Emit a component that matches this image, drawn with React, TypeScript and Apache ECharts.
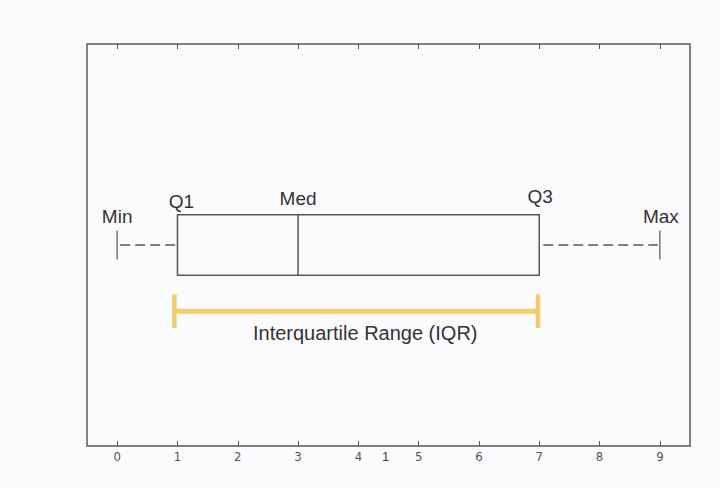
import React, { useEffect, useRef } from "react";
import * as echarts from "echarts";

// Five-number summary
const minVal = 0;
const q1Val = 1;
const medVal = 3;
const q3Val = 7;
const maxVal = 9;
// IQR bracket ends as drawn
const iqrStart = 0.95;
const iqrEnd = 6.98;
const tickValues = [0, 1, 2, 3, 4, 5, 6, 7, 8, 9];
const labelNames = ["Min", "Q1", "Med", "Q3", "Max"];
const iqrLabel = "Interquartile Range (IQR)";
// vertical layout levels (y axis units 0..100)
const boxCenter = 50;
const boxHalf = 7.5;
const capHalf = 3.6;
const iqrLevel = 33.5;
const iqrCapHalf = 4.2;

const FONT = "'Liberation Sans', Arial, Helvetica, sans-serif";

export default function App() {
  const ref = useRef<HTMLDivElement>(null);
  useEffect(() => {
    if (!ref.current) return;
    const chart = echarts.init(ref.current, null, { renderer: "svg" });
    const stroke = "#585858";
    const option: any = {
      animation: false,
      backgroundColor: "#fbfbfd",
      grid: {
        left: 87,
        right: 30,
        top: 44,
        bottom: 42,
        show: true,
        borderColor: "#5a5a5a",
        borderWidth: 1.5,
        backgroundColor: "transparent",
      },
      xAxis: [
        {
          type: "value",
          min: -0.5,
          max: 9.5,
          position: "bottom",
          splitLine: { show: false },
          axisLine: { show: false },
          axisTick: {
            show: true,
            inside: true,
            length: 5,
            customValues: tickValues,
            lineStyle: { color: "#555", width: 1 },
          },
          axisLabel: {
            show: true,
            customValues: tickValues,
            margin: 4,
            fontSize: 13,
            color: "#555",
            fontFamily: "'Liberation Sans Narrow', 'DejaVu Sans Condensed', sans-serif",
          },
        },
        {
          type: "value",
          min: -0.5,
          max: 9.5,
          position: "top",
          splitLine: { show: false },
          axisLine: { show: false },
          axisTick: {
            show: true,
            inside: true,
            length: 5,
            customValues: tickValues,
            lineStyle: { color: "#555", width: 1 },
          },
          axisLabel: { show: false },
        },
      ],
      yAxis: {
        type: "value",
        min: 0,
        max: 100,
        show: false,
      },
      graphic: [
        {
          type: "text",
          left: 382,
          top: 450,
          style: {
            text: "1",
            fontSize: 13,
            fill: "#444",
            fontFamily: FONT,
          },
        },
      ],
      series: [
        {
          type: "custom",
          xAxisIndex: 0,
          yAxisIndex: 0,
          data: [[minVal, q1Val, medVal, q3Val, maxVal]],
          renderItem: (params: any, api: any) => {
            const mn = api.value(0);
            const q1 = api.value(1);
            const md = api.value(2);
            const q3 = api.value(3);
            const mx = api.value(4);
            const pMinC = api.coord([mn, boxCenter]);
            const pMaxC = api.coord([mx, boxCenter]);
            const pQ1Top = api.coord([q1, boxCenter + boxHalf]);
            const pQ3Bot = api.coord([q3, boxCenter - boxHalf]);
            const pMedTop = api.coord([md, boxCenter + boxHalf]);
            const pMedBot = api.coord([md, boxCenter - boxHalf]);
            const capTop = api.coord([mn, boxCenter + capHalf])[1];
            const capBot = api.coord([mn, boxCenter - capHalf])[1];
            const q1x = pQ1Top[0];
            const q3x = pQ3Bot[0];
            const cy = pMinC[1];
            const iqrA = api.coord([iqrStart, iqrLevel]);
            const iqrB = api.coord([iqrEnd, iqrLevel]);
            const iqrCapTop = api.coord([iqrStart, iqrLevel + iqrCapHalf])[1];
            const iqrCapBot = api.coord([iqrStart, iqrLevel - iqrCapHalf])[1];
            const yellow = "#f1cd6e";
            const lbl = (t: string, x: number, y: number) => ({
              type: "text",
              style: {
                text: t,
                x,
                y,
                textAlign: "center",
                textVerticalAlign: "middle",
                fontSize: 19,
                fill: "#333",
                fontFamily: FONT,
              },
            });
            return {
              type: "group",
              children: [
                {
                  type: "rect",
                  shape: {
                    x: q1x,
                    y: pQ1Top[1],
                    width: q3x - q1x,
                    height: pQ3Bot[1] - pQ1Top[1],
                  },
                  style: { fill: "transparent", stroke, lineWidth: 1.5 },
                },
                {
                  type: "line",
                  shape: { x1: pMedTop[0], y1: pMedTop[1], x2: pMedBot[0], y2: pMedBot[1] },
                  style: { stroke, lineWidth: 1.5 },
                },
                {
                  type: "line",
                  shape: { x1: pMinC[0] + 3, y1: cy, x2: q1x - 2, y2: cy },
                  style: { stroke, lineWidth: 1.5, lineDash: [10, 5] },
                },
                {
                  type: "line",
                  shape: { x1: q3x + 4, y1: cy, x2: pMaxC[0] - 2, y2: cy },
                  style: { stroke, lineWidth: 1.5, lineDash: [10, 5] },
                },
                {
                  type: "line",
                  shape: { x1: pMinC[0], y1: capTop, x2: pMinC[0], y2: capBot },
                  style: { stroke: "#777", lineWidth: 1.5 },
                },
                {
                  type: "line",
                  shape: { x1: pMaxC[0], y1: capTop, x2: pMaxC[0], y2: capBot },
                  style: { stroke: "#777", lineWidth: 1.5 },
                },
                {
                  type: "line",
                  shape: { x1: iqrA[0], y1: iqrA[1], x2: iqrB[0], y2: iqrB[1] },
                  style: { stroke: yellow, lineWidth: 5 },
                },
                {
                  type: "line",
                  shape: { x1: iqrA[0], y1: iqrCapTop, x2: iqrA[0], y2: iqrCapBot },
                  style: { stroke: yellow, lineWidth: 4.5 },
                },
                {
                  type: "line",
                  shape: { x1: iqrB[0], y1: iqrCapTop, x2: iqrB[0], y2: iqrCapBot },
                  style: { stroke: yellow, lineWidth: 4.5 },
                },
                lbl(labelNames[0], pMinC[0], cy - 29),
                lbl(labelNames[1], q1x + 4, cy - 44),
                lbl(labelNames[2], pMedTop[0], cy - 47),
                lbl(labelNames[3], q3x + 1, cy - 49),
                lbl(labelNames[4], pMaxC[0] + 1, cy - 29),
                {
                  type: "text",
                  style: {
                    text: iqrLabel,
                    x: (iqrA[0] + iqrB[0]) / 2 + 9,
                    y: iqrA[1] + 22,
                    textAlign: "center",
                    textVerticalAlign: "middle",
                    fontSize: 20,
                    fill: "#333",
                    fontFamily: FONT,
                  },
                },
              ],
            };
          },
        },
      ],
    };
    chart.setOption(option);
    return () => chart.dispose();
  }, []);
  return (
    <div
      ref={ref}
      style={{ position: "fixed", left: 0, top: 0, width: 720, height: 488 }}
    />
  );
}
